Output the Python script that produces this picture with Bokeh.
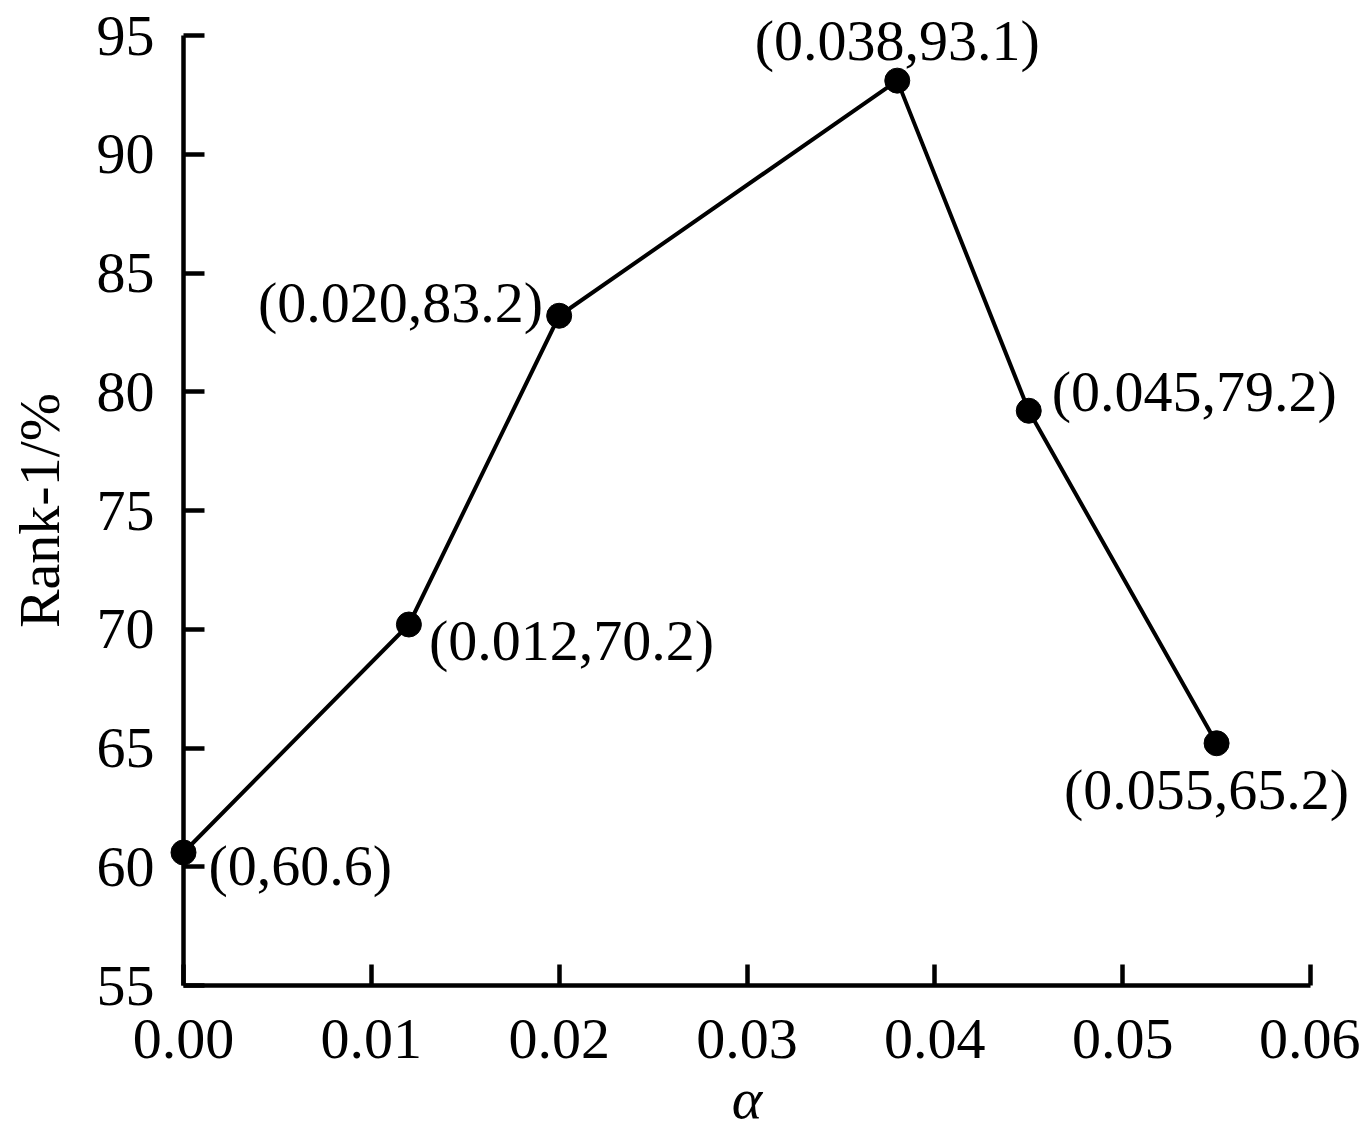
from bokeh.plotting import figure
from bokeh.models import ColumnDataSource, FixedTicker, Range1d, NumeralTickFormatter, Label
from bokeh.embed import file_html
from bokeh.resources import INLINE

# data
alpha = [0.0, 0.012, 0.020, 0.038, 0.045, 0.055]
rank1 = [60.6, 70.2, 83.2, 93.1, 79.2, 65.2]
point_labels = ["(0,60.6)", "(0.012,70.2)", "(0.020,83.2)", "(0.038,93.1)", "(0.045,79.2)", "(0.055,65.2)"]
x_ticks = [0.0, 0.01, 0.02, 0.03, 0.04, 0.05, 0.06]
y_ticks = [55, 60, 65, 70, 75, 80, 85, 90, 95]
x_lim = (0.0, 0.06)
y_lim = (55, 95)

# label placement (screen px, down positive) and alignment
lab_dx = [25, 20, -16, 0, 23, -10]
lab_dy = [13, 16, -13, -40, -19, 46]
lab_align = ["left", "left", "right", "center", "left", "center"]

FONT = "Liberation Serif"
FS = "58px"

W, H = 1360, 1136
# pixel positions of the axes' ends on the canvas
PX0, PX1 = 183, 1310   # x = 0 .. 0.06
PY0, PY1 = 985, 35     # y = 55 .. 95
sx = (x_lim[1] - x_lim[0]) / (PX1 - PX0)
sy = (y_lim[1] - y_lim[0]) / (PY0 - PY1)
xr = Range1d(x_lim[0] - PX0 * sx, x_lim[1] + (W - PX1) * sx)
yr = Range1d(y_lim[0] - (H - PY0) * sy, y_lim[1] + PY1 * sy)

p = figure(width=W, height=H, output_backend="svg", toolbar_location=None,
           x_range=xr, y_range=yr,
           min_border_left=0, min_border_right=0, min_border_top=0, min_border_bottom=0)
p.outline_line_color = None
p.grid.visible = False
p.background_fill_color = "white"
p.border_fill_color = "white"

for ax in (p.xaxis[0], p.yaxis[0]):
    ax.axis_line_width = 4.5
    ax.axis_line_color = "black"
    ax.major_tick_line_width = 4.5
    ax.major_tick_line_color = "black"
    ax.major_tick_in = 21
    ax.major_tick_out = 0
    ax.minor_tick_line_color = None
    ax.major_label_text_font = FONT
    ax.major_label_text_font_size = FS
    ax.major_label_text_color = "black"
    ax.axis_label_text_font = FONT
    ax.axis_label_text_font_size = FS
    ax.axis_label_text_color = "black"
    ax.axis_label_text_font_style = "normal"

p.xaxis.ticker = FixedTicker(ticks=x_ticks)
p.xaxis.formatter = NumeralTickFormatter(format="0.00")
p.xaxis.bounds = x_lim
p.xaxis.fixed_location = y_lim[0]
p.yaxis.ticker = FixedTicker(ticks=y_ticks)
p.yaxis.bounds = y_lim
p.yaxis.fixed_location = x_lim[0]
p.xaxis.major_label_standoff = 34
p.yaxis.major_label_standoff = 29
p.xaxis.axis_label = "α"
p.xaxis.axis_label_text_font_style = "italic"
p.xaxis.axis_label_standoff = 5
p.yaxis.axis_label = "Rank-1/%"
p.yaxis.axis_label_standoff = 22

src = ColumnDataSource(dict(x=alpha, y=rank1))
p.line("x", "y", source=src, line_color="black", line_width=4)
p.scatter("x", "y", source=src, size=25, fill_color="black", line_color="black")

for xi, yi, t, dx, dy, al in zip(alpha, rank1, point_labels, lab_dx, lab_dy, lab_align):
    p.add_layout(Label(x=xi, y=yi, text=t, x_offset=dx, y_offset=-dy, text_align=al,
                       text_baseline="alphabetic", text_font=FONT, text_font_size=FS,
                       text_color="black"))

open("out.html", "w").write(file_html(p, INLINE))
